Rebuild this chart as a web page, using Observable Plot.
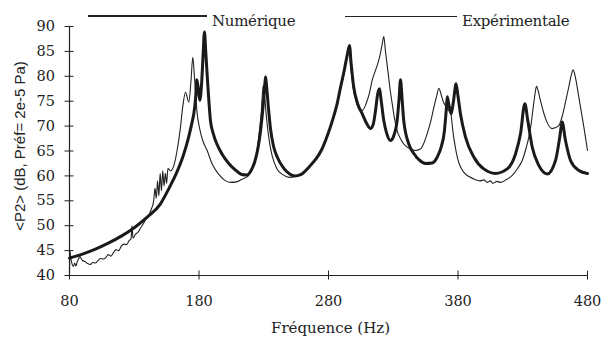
<!DOCTYPE html>
<html>
<head>
<meta charset="utf-8">
<script src="https://cdn.jsdelivr.net/npm/d3@7"></script>
<script src="https://cdn.jsdelivr.net/npm/@observablehq/plot@0.6"></script>
<style>
  body { margin: 0; background: white; }
  #wrap { position: relative; width: 605px; height: 337px; }
  .leg { position: absolute; font-family: "DejaVu Serif", serif; font-size: 15px; color: #222; letter-spacing: -0.3px; line-height: 18px; white-space: nowrap; }
  .ln { position: absolute; background: #222; }
</style>
</head>
<body>
<div id="wrap"></div>
<script>
const seriesNames = ["Numérique", "Expérimentale"];
const xTicks = [80, 180, 280, 380, 480];
const yTicks = [40, 45, 50, 55, 60, 65, 70, 75, 80, 85, 90];
const xLabel = "Fréquence (Hz)";
const yLabel = "<P2> (dB, Préf= 2e-5 Pa)";

// Numérique (thick)
const freqNum = [80,90,100,110,120,130,140,150,157,163,168,172,175,176,177.5,178.3,179.5,180.6,182,183.2,184.2,185.2,186.5,188.9,191,194,198,203,208,213,217,220,223,225.5,227.5,229.5,230.7,231.4,232.2,233.5,235.2,237.5,240.4,245.5,250,254,258,260,265,270,275,279,283,286.5,289.3,292,294.5,296.2,297.5,299.5,302.5,306,309.5,312.4,314.5,316.3,318,319.4,320.5,322.7,325,327.9,330,332,333,334.5,335.6,336.8,338.1,342,345.9,350,355,360,364,367,369.5,371,371.7,372.8,374.7,376.5,378.5,380,381.9,385.8,392.2,399.9,409,418,424.4,428.3,431.6,433.9,437.3,442.4,448.9,455.3,458.6,460.4,463,466.9,473.3,480];
const dbNum = [43.5,44.3,45.3,46.5,47.9,49.6,51.7,54.3,57.6,60.8,64.2,67.8,71.2,72.5,76,79.3,77.5,75.2,78.5,84.5,88.9,85,79.5,71,68.5,66.3,64.3,62.5,61.2,60.3,60.2,61,62.8,65.5,69,74,78,79.9,78,74,69.5,66,63.8,61.5,60.4,60,60.2,60.5,61.8,63.3,65.4,68,71.1,74.3,77.8,81,84.3,86.2,82.5,77.8,74.5,72.5,70.5,69.5,70.3,73.1,76.5,77.5,75.5,71.1,68.5,67.1,67.8,69.5,71.1,75.5,79.3,75.5,71.1,66.4,64.5,63.2,62.5,62.6,63.8,65.8,69,73.5,75.9,74.5,72.5,75,78.5,76,72.5,67.8,63.8,61.4,60.5,61.4,64.4,68.5,74.5,71.1,65.8,62.1,60.4,63.1,67.8,70.8,67.1,63.1,61.1,60.5];

// Expérimentale (thin)
const freqExp = [80,80.3,81,82,83,84,85,86,87,88,89,90,92,94,96,98,100,102,104,106,108,110,112,114,116,118,120,122,124,126,127.5,128.3,129,131,133,135,137,139,141,143,145,146,147,148,149,150,151,152,153,154,155,156,158,160.5,163,165.7,167.5,169.6,172.1,173.8,175.2,176.5,178.6,180.5,183,186.3,190,195,200,204.3,209,213,218,221.5,224,226,228,229.6,230.7,232,234,236.5,240,245,250,255,260,265,270,275,279,283,286.5,289.3,292,294,295.7,297.3,299.5,301.5,303.4,306,309,311.5,313.7,316,318,320,321.5,322.7,324,325.8,327.5,329.2,331,333,335.5,338.1,343.3,347,351,353.5,356.2,359,361.4,363.5,365.2,366.8,368.5,370.5,372.5,374.2,376.3,379.4,384.5,392.2,397,400,402.5,405,407,410,412.8,417,421.9,426,429.6,432.5,434.7,436.5,438.1,439.5,440.6,442,443.7,447.6,452.7,457.8,460.5,463,465.5,467.5,468.9,470.5,473.3,477.2,480];
const dbExp = [40.5,45,43.5,42.3,41.8,42.5,41.9,42.8,43.3,43.8,43.4,43,42.8,42.4,42.2,42.6,42.5,43,43.4,43.3,43.6,44.2,43.9,44.6,45.2,45,45.9,46.3,46.2,47,47.4,50,47.5,48.3,48.7,49.6,50.4,51.3,52,53.2,55,57.5,55.5,59,56,60.5,57,61,58,60.5,58.5,61.5,61,62,65,69.8,74,76.8,74.8,79,83.8,79.8,72.5,69.5,67,65.1,62.5,60.4,59.1,58.7,58.8,59.3,60,61.5,64,67.5,72.5,78.2,76,72,67.5,64,61.5,60.2,59.7,60,60.6,61.8,63.3,65.3,67.8,70.8,74,77.5,80.5,83.5,85.5,81.5,77,74.8,73.5,73.1,74.5,76.5,79.2,81,82.5,84.5,86.5,88,85,81.2,77.5,74.5,71.5,69.1,67.5,66.4,65.4,65.1,65.4,66.5,68.5,71,73.8,76,77.6,76.5,75,74,73.2,72.8,68.5,63.8,60.7,59.4,59,59.2,58.7,59,58.5,58.9,58.7,59.2,60.1,61.5,63.1,65.5,67.8,70.5,73.8,76.5,78,77,75.1,71.5,69.5,70.1,72,74.8,77.8,80.3,81.3,80,75.8,69.8,65.1];

const num = freqNum.map((f, i) => ({f, db: dbNum[i]}));
const exp = freqExp.map((f, i) => ({f, db: dbExp[i]}));

const chart = Plot.plot({
  width: 605,
  height: 337,
  marginLeft: 69,
  marginRight: 18,
  marginTop: 26,
  marginBottom: 62,
  x: {domain: [80, 480]},
  y: {domain: [40, 90]},
  style: {fontFamily: "DejaVu Serif, serif", fontSize: "14px", color: "#222", background: "white"},
  marks: [
    Plot.axisY(yTicks, {tickSize: 9, dx: 4.5, tickPadding: 10, label: null, fontSize: 14.5}),
    Plot.axisX(xTicks, {tickSize: 9, dy: -4.5, tickPadding: 16, label: null, fontSize: 14.5}),
    Plot.ruleX([80], {stroke: "#222", strokeWidth: 1.2}),
    Plot.ruleY([40], {stroke: "#222", strokeWidth: 1.2}),
    Plot.line(exp, {x: "f", y: "db", stroke: "#222", strokeWidth: 1.1, curve: "monotone-x"}),
    Plot.line(num, {x: "f", y: "db", stroke: "#1a1a1a", strokeWidth: 3, curve: "monotone-x"}),
    Plot.text([yLabel], {frameAnchor: "left", textAnchor: "middle", rotate: -90, dx: -49, dy: -5, fontFamily: "Liberation Sans, Arial, sans-serif", fontSize: 15, fill: "#222"}),
    Plot.text([xLabel], {frameAnchor: "bottom", dx: 2, dy: 57, fontSize: 15, fill: "#222"})
  ]
});
const wrap = document.getElementById("wrap");
wrap.appendChild(chart);

// legend overlay
function addLine(left, width, top, h) {
  const d = document.createElement("div");
  d.className = "ln";
  Object.assign(d.style, {left: left + "px", width: width + "px", top: top + "px", height: h + "px"});
  wrap.appendChild(d);
}
function addText(left, top, t) {
  const d = document.createElement("div");
  d.className = "leg";
  d.style.left = left + "px"; d.style.top = top + "px";
  d.textContent = t;
  wrap.appendChild(d);
}
addLine(88, 119, 14.5, 2.8);
addText(212, 12, seriesNames[0]);
addLine(345, 112, 15.5, 1);
addText(462, 12, seriesNames[1]);
</script>
</body>
</html>
